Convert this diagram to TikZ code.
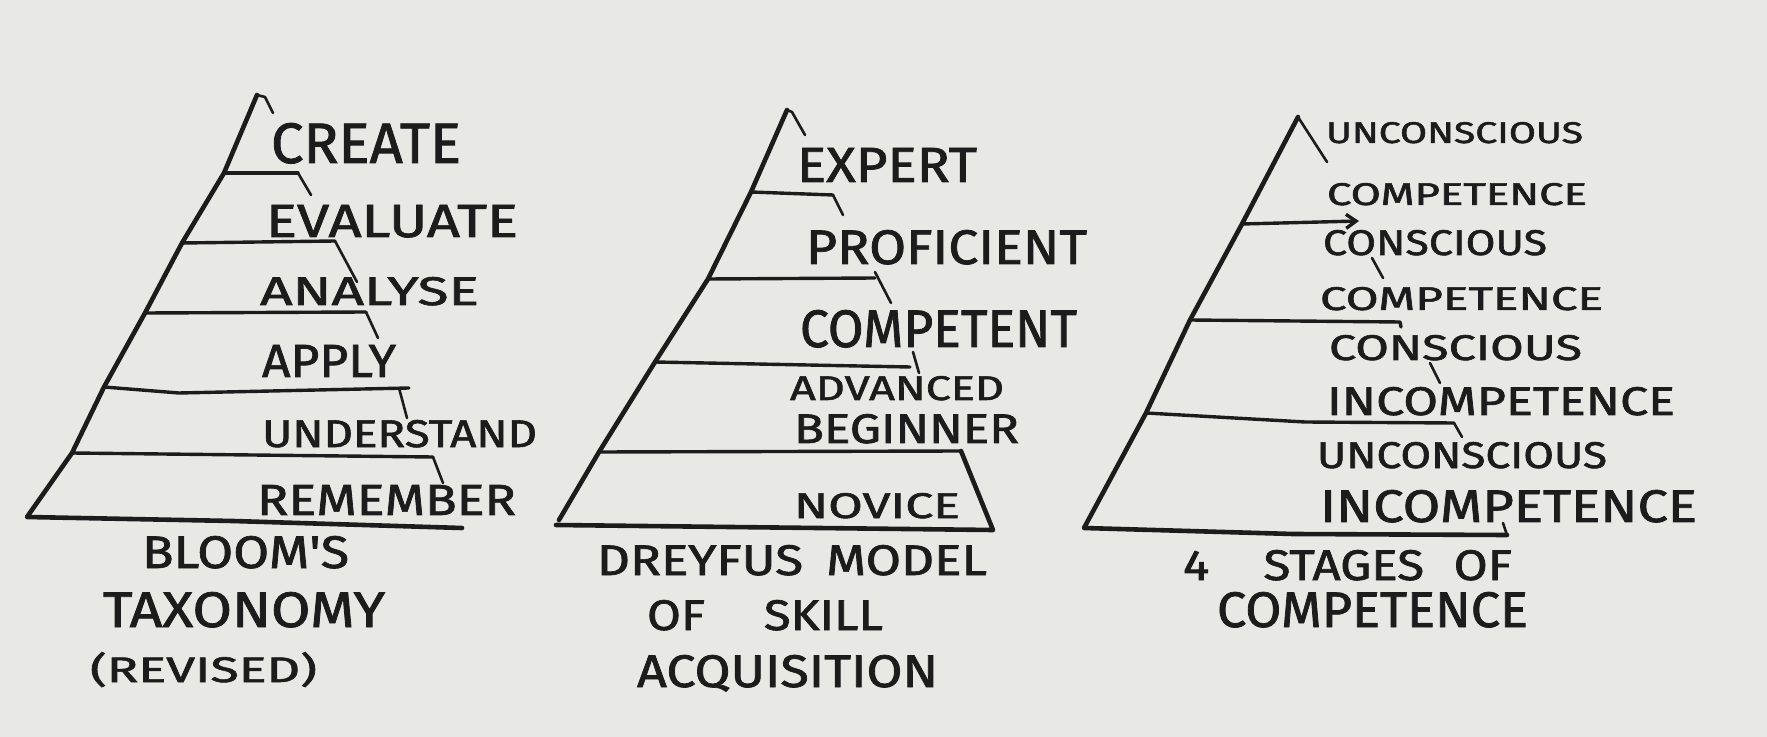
\documentclass[tikz,border=0pt]{standalone}
\usepackage{fontspec}
\usepackage{graphicx}
\newfontfamily\handfont{Fira Sans}[FakeBold=1.5]
\usetikzlibrary{arrows.meta}
\definecolor{paper}{RGB}{232,232,229}
\definecolor{inkc}{RGB}{28,28,28}
\newdimen\pxu \pxu=0.5pt
\newcommand\hw[3]{\resizebox{#1\pxu}{#2\pxu}{\handfont #3}}
\begin{document}
\begin{tikzpicture}[x=0.5pt,y=-0.5pt,
  ink/.style={draw=inkc, line cap=round, line join=round},
  side/.style={ink, line width=2.3pt},
  layer/.style={ink, line width=1.7pt},
  tickln/.style={ink, line width=1.3pt},
  lbl/.style={anchor=base west, inner sep=0pt, outer sep=0pt, text=inkc}]
\fill[paper] (0,0) rectangle (1767,737);
\useasboundingbox (0,0) rectangle (1767,737);

% ---------- Pyramid 1: Bloom ----------
\coordinate (a1) at (257,95);
\coordinate (a1h) at (265,97);
\coordinate (a1t) at (273,113);
\coordinate (p1l1) at (224,173); \coordinate (p1r1) at (298,173); \coordinate (p1t1) at (311,195);
\coordinate (p1l2) at (182,243); \coordinate (p1r2) at (335,241); \coordinate (p1t2) at (357,282);
\coordinate (p1l3) at (145,313); \coordinate (p1r3) at (366,312); \coordinate (p1t3) at (378,338);
\coordinate (p1l4) at (104,387); \coordinate (p1m4) at (179,393); \coordinate (p1r4) at (409,388);
\coordinate (p1s4) at (399,388); \coordinate (p1t4) at (407,418);
\coordinate (p1l5) at (72,453); \coordinate (p1r5) at (433,457); \coordinate (p1t5) at (443,483);
\coordinate (p1bl) at (27,517); \coordinate (p1bm) at (233,521); \coordinate (p1br) at (462,528);
\draw[side] (a1) -- (p1l1) -- (p1l2) -- (p1l3) -- (p1l4) -- (p1l5) -- (p1bl) -- (p1bm) -- (p1br);
\draw[tickln] (a1) -- (a1h) -- (a1t);
\draw[layer] (p1l1) -- (p1r1); \draw[tickln] (p1r1) -- (p1t1);
\draw[layer] (p1l2) -- (p1r2); \draw[tickln] (p1r2) -- (p1t2);
\draw[layer] (p1l3) -- (p1r3); \draw[tickln] (p1r3) -- (p1t3);
\draw[layer] (p1l4) -- (p1m4) -- (p1r4); \draw[tickln] (p1s4) -- (p1t4);
\draw[layer] (p1l5) -- (p1r5); \draw[tickln] (p1r5) -- (p1t5);

\node[lbl] (create) at (271,163) {\hw{190}{40}{CREATE}};
\node[lbl] (evaluate) at (266,237) {\hw{252}{32}{EVALUATE}};
\node[lbl] (analyse) at (260,305) {\hw{219}{28}{ANALYSE}};
\node[lbl] (apply) at (262,377) {\hw{134}{32}{APPLY}};
\node[lbl] (understand) at (262,447) {\hw{275}{27}{UNDERSTAND}};
\node[lbl] (remember) at (257,515) {\hw{259}{30}{REMEMBER}};

\node[lbl] (bloom1) at (142,568) {\hw{207}{32}{BLOOM'S}};
\node[lbl] (bloom2) at (103,627) {\hw{282}{35}{TAXONOMY}};
\node[lbl] (bloom3) at (90,682) {\hw{227}{30}{(REVISED)}};

% ---------- Pyramid 2: Dreyfus ----------
\coordinate (a2) at (787,110);
\coordinate (a2h) at (792,112);
\coordinate (a2t) at (805,135);
\coordinate (p2l1) at (751,192); \coordinate (p2r1) at (833,195); \coordinate (p2t1) at (843,215);
\coordinate (p2l2) at (708,279); \coordinate (p2r2) at (875,278); \coordinate (p2s2) at (875,272); \coordinate (p2t2) at (891,303);
\coordinate (p2l3) at (655,362); \coordinate (p2r3) at (910,367); \coordinate (p2s3) at (913,352); \coordinate (p2t3) at (919,373);
\coordinate (p2l4) at (599,452); \coordinate (p2r4) at (961,451);
\coordinate (p2bl) at (559,520); \coordinate (p2b0) at (556,525); \coordinate (p2br) at (993,530);
\draw[side] (a2) -- (p2l1) -- (p2l2) -- (p2l3) -- (p2l4) -- (p2bl);
\draw[side] (p2b0) -- (p2br) -- (p2r4);
\draw[tickln] (a2) -- (a2h) -- (a2t);
\draw[layer] (p2l1) -- (p2r1); \draw[tickln] (p2r1) -- (p2t1);
\draw[layer] (p2l2) -- (p2r2); \draw[tickln] (p2s2) -- (p2t2);
\draw[layer] (p2l3) -- (p2r3); \draw[tickln] (p2s3) -- (p2t3);
\draw[layer] (p2l4) -- (p2r4);

\node[lbl] (expert) at (797,182) {\hw{180}{34}{EXPERT}};
\node[lbl] (proficient) at (806,264) {\hw{281}{34}{PROFICIENT}};
\node[lbl] (competent) at (800,347) {\hw{277}{37}{COMPETENT}};
\node[lbl] (advanced) at (790,400) {\hw{214}{24}{ADVANCED}};
\node[lbl] (beginner) at (794,443) {\hw{225}{29}{BEGINNER}};
\node[lbl] (novice) at (794,518) {\hw{166}{25}{NOVICE}};

\node[lbl] (drey1) at (597,575) {\hw{390}{30}{DREYFUS\hspace{0.45em}MODEL}};
\node[lbl] (drey2) at (647,630) {\hw{236}{30}{OF\hspace{1.2em}SKILL}};
\node[lbl] (drey3) at (637,687) {\hw{301}{32}{ACQUISITION}};

% ---------- Pyramid 3: 4 stages ----------
\coordinate (a3) at (1298,117);
\coordinate (a3t) at (1327,162);
\coordinate (p3l1) at (1242,224); \coordinate (p3r1) at (1359,221);
\coordinate (p3l2) at (1190,320); \coordinate (p3r2) at (1400,322); \coordinate (p3t2) at (1401,327);
\coordinate (p3l3) at (1146,413); \coordinate (p3m3) at (1305,422); \coordinate (p3r3) at (1454,423); \coordinate (p3t3) at (1462,437);
\coordinate (p3bl) at (1084,528); \coordinate (p3bm) at (1293,534); \coordinate (p3br) at (1507,535);
\coordinate (p3bt) at (1503,523);
\coordinate (k1s) at (1372,258); \coordinate (k1e) at (1383,278);
\coordinate (k2s) at (1430,363); \coordinate (k2e) at (1440,383);
\draw[side] (a3) -- (p3l1) -- (p3l2) -- (p3l3) -- (p3bl) -- (p3bm) -- (p3br);
\draw[tickln] (a3) -- (a3t);
\draw[layer, -{Straight Barb[length=5pt,width=7pt]}] (p3l1) -- (p3r1);
\draw[layer] (p3l2) -- (p3r2) -- (p3t2);
\draw[layer] (p3l3) -- (p3m3) -- (p3r3); \draw[tickln] (p3r3) -- (p3t3);
\draw[tickln] (p3bt) -- (p3br);
\draw[tickln] (k1s) -- (k1e);
\draw[tickln] (k2s) -- (k2e);

\node[lbl] (s1a) at (1326,143) {\hw{257}{21}{UNCONSCIOUS}};
\node[lbl] (s1b) at (1327,205) {\hw{260}{22}{COMPETENCE}};
\node[lbl] (s2a) at (1323,255) {\hw{224}{25}{CONSCIOUS}};
\node[lbl] (s2b) at (1320,310) {\hw{283}{23}{COMPETENCE}};
\node[lbl] (s3a) at (1329,360) {\hw{253}{25}{CONSCIOUS}};
\node[lbl] (s3b) at (1327,415) {\hw{348}{28}{INCOMPETENCE}};
\node[lbl] (s4a) at (1317,468) {\hw{290}{26}{UNCONSCIOUS}};
\node[lbl] (s4b) at (1320,522) {\hw{377}{32}{INCOMPETENCE}};

\node[lbl] (four1) at (1183,580) {\hw{329}{30}{4\hspace{1.1em}STAGES\hspace{0.6em}OF}};
\node[lbl] (four2) at (1217,627) {\hw{311}{35}{COMPETENCE}};
\end{tikzpicture}
\end{document}
